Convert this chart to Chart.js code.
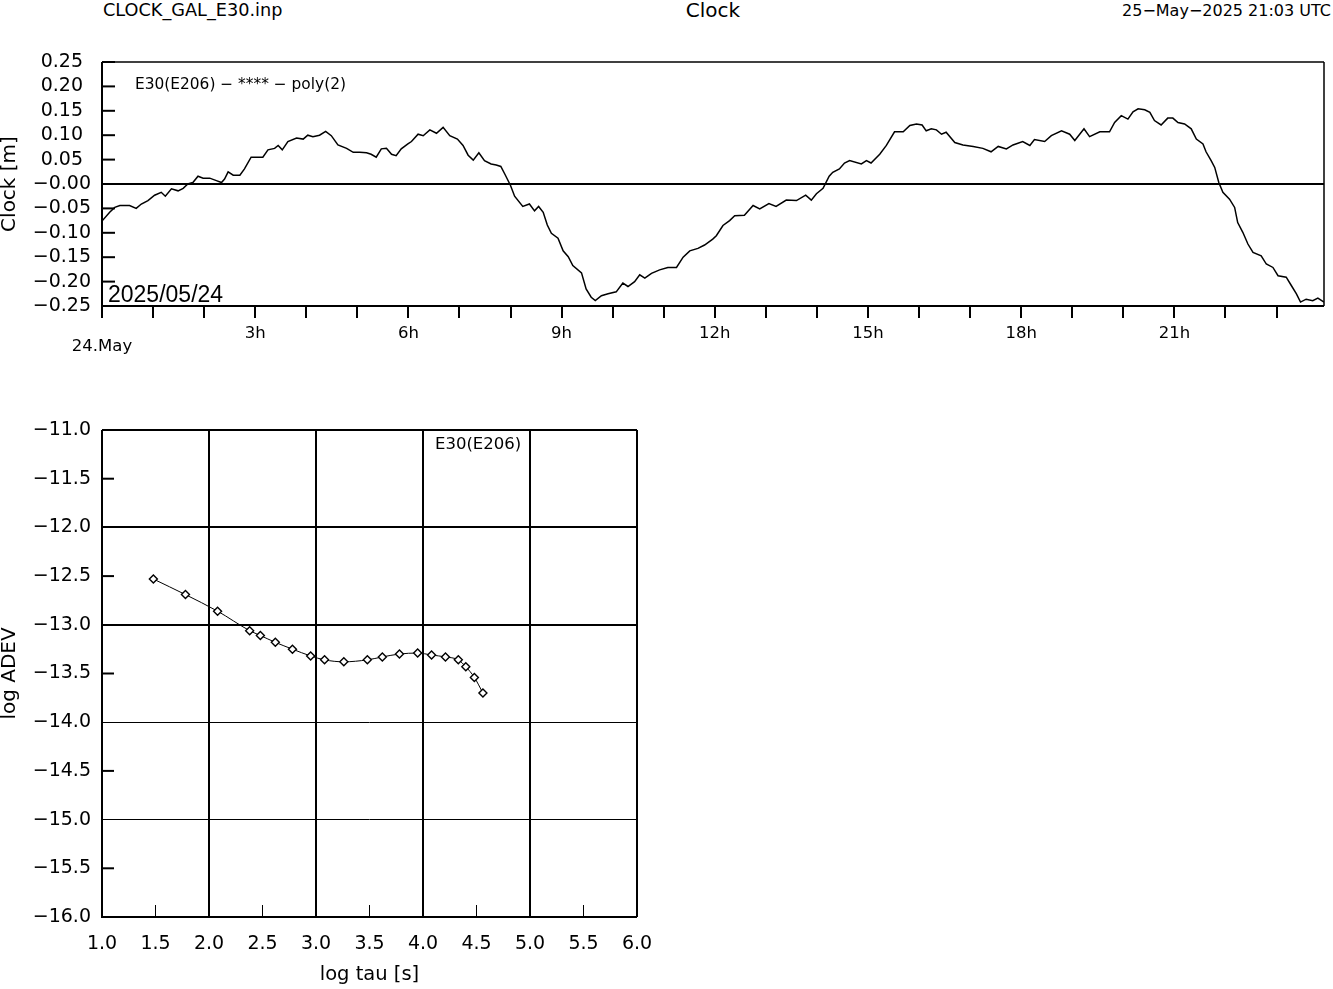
<!DOCTYPE html>
<html>
<head>
<meta charset="utf-8">
<script src="https://cdn.jsdelivr.net/npm/chart.js@4/dist/chart.umd.min.js"></script>
<style>
  body { margin: 0; background: #fff; }
  #page { position: relative; width: 1333px; height: 989px; overflow: hidden; }
  .hdr { position: absolute; font-family: "DejaVu Sans", sans-serif; color: #000; line-height: 1; white-space: nowrap; }
  canvas { position: absolute; }
</style>
</head>
<body>
<div id="page">
  <div class="hdr" style="left:103px;top:2px;font-size:17.7px;">CLOCK_GAL_E30.inp</div>
  <div class="hdr" style="left:613px;top:0px;width:200px;text-align:center;font-size:20px;">Clock</div>
  <div class="hdr" style="right:2px;top:3px;font-size:16px;">25−May−2025 21:03 UTC</div>
  <canvas id="clock" width="1333" height="340" style="left:0;top:30px;"></canvas>
  <canvas id="adev" width="700" height="589" style="left:0;top:400px;"></canvas>
</div>
<script>
// ── CLOCK DATA (hours since 24.May 00:00, metres) ──
const clockHours = [
  0.00, 0.15, 0.25, 0.35, 0.54, 0.67, 0.77, 0.90, 1.03, 1.16, 1.24, 1.36, 1.49, 1.59, 1.68, 1.78,
  1.88, 1.98, 2.11, 2.24, 2.34, 2.40, 2.47, 2.57, 2.70, 2.79, 2.92, 3.15, 3.25, 3.38, 3.45, 3.53,
  3.64, 3.81, 3.94, 4.03, 4.13, 4.26, 4.38, 4.49, 4.62, 4.79, 4.92, 5.05, 5.18, 5.27, 5.37, 5.47,
  5.57, 5.67, 5.76, 5.86, 5.99, 6.06, 6.19, 6.29, 6.42, 6.55, 6.68, 6.81, 6.96, 7.07, 7.17, 7.27,
  7.38, 7.49, 7.62, 7.72, 7.81, 7.89, 8.00, 8.08, 8.24, 8.37, 8.47, 8.55, 8.64, 8.72, 8.80, 8.93,
  9.03, 9.13, 9.22, 9.39, 9.48, 9.58, 9.66, 9.78, 9.91, 10.07, 10.20, 10.30, 10.43, 10.53, 10.63, 10.76,
  10.92, 11.08, 11.25, 11.38, 11.51, 11.67, 11.80, 11.96, 12.03, 12.16, 12.29, 12.39, 12.58, 12.75, 12.88, 13.06,
  13.20, 13.40, 13.60, 13.78, 13.89, 13.99, 14.12, 14.24, 14.31, 14.44, 14.54, 14.64, 14.87, 14.97, 15.06, 15.23,
  15.36, 15.52, 15.69, 15.82, 15.95, 16.06, 16.14, 16.24, 16.34, 16.44, 16.53, 16.70, 16.86, 17.06, 17.25, 17.41,
  17.55, 17.71, 17.84, 18.03, 18.17, 18.26, 18.46, 18.59, 18.79, 18.95, 19.05, 19.23, 19.34, 19.54, 19.73, 19.83,
  19.96, 20.09, 20.19, 20.29, 20.42, 20.52, 20.61, 20.74, 20.87, 20.97, 21.07, 21.20, 21.33, 21.43, 21.56, 21.62,
  21.72, 21.79, 21.87, 21.95, 22.08, 22.18, 22.24, 22.34, 22.44, 22.54, 22.70, 22.80, 22.93, 23.03, 23.19, 23.29,
  23.39, 23.47, 23.58, 23.71, 23.81, 23.93
];
const clockValues = [
  -0.076, -0.058, -0.048, -0.044, -0.044, -0.050, -0.041, -0.034, -0.023, -0.017, -0.025, -0.010, -0.014, -0.009, 0.000, 0.003,
  0.016, 0.012, 0.012, 0.007, 0.003, 0.010, 0.025, 0.018, 0.018, 0.031, 0.055, 0.055, 0.070, 0.073, 0.079, 0.070,
  0.087, 0.094, 0.092, 0.100, 0.097, 0.100, 0.108, 0.099, 0.080, 0.073, 0.065, 0.065, 0.064, 0.061, 0.055, 0.072,
  0.073, 0.061, 0.058, 0.072, 0.082, 0.087, 0.102, 0.099, 0.111, 0.104, 0.116, 0.099, 0.092, 0.079, 0.059, 0.049,
  0.064, 0.048, 0.041, 0.039, 0.036, 0.020, -0.003, -0.025, -0.046, -0.041, -0.055, -0.046, -0.058, -0.084, -0.101, -0.111,
  -0.137, -0.149, -0.167, -0.182, -0.215, -0.232, -0.239, -0.229, -0.225, -0.221, -0.203, -0.210, -0.200, -0.186, -0.193, -0.183,
  -0.176, -0.171, -0.171, -0.150, -0.137, -0.132, -0.125, -0.113, -0.106, -0.085, -0.075, -0.065, -0.064, -0.044, -0.051, -0.040,
  -0.046, -0.033, -0.034, -0.023, -0.033, -0.020, -0.009, 0.016, 0.024, 0.031, 0.043, 0.048, 0.041, 0.048, 0.043, 0.061,
  0.079, 0.107, 0.107, 0.120, 0.123, 0.121, 0.109, 0.113, 0.111, 0.102, 0.106, 0.085, 0.080, 0.077, 0.073, 0.066,
  0.077, 0.072, 0.080, 0.087, 0.079, 0.091, 0.087, 0.099, 0.109, 0.102, 0.089, 0.113, 0.097, 0.107, 0.107, 0.126,
  0.140, 0.133, 0.148, 0.154, 0.152, 0.147, 0.130, 0.121, 0.135, 0.135, 0.126, 0.123, 0.113, 0.092, 0.082, 0.066,
  0.048, 0.034, 0.003, -0.017, -0.031, -0.048, -0.079, -0.099, -0.123, -0.140, -0.147, -0.164, -0.171, -0.188, -0.191, -0.208,
  -0.225, -0.242, -0.236, -0.239, -0.234, -0.242
];

const timeTickValues = [0, 1, 2, 3, 4, 5, 6, 7, 8, 9, 10, 11, 12, 13, 14, 15, 16, 17, 18, 19, 20, 21, 22, 23];
const timeTickLabels = ['24.May', '', '', '3h', '', '', '6h', '', '', '9h', '', '', '12h', '', '', '15h', '', '', '18h', '', '', '21h', '', ''];
const clockYTicks = [-0.25, -0.20, -0.15, -0.10, -0.05, 0, 0.05, 0.10, 0.15, 0.20, 0.25];
const clockYTickLabels = ['−0.25', '−0.20', '−0.15', '−0.10', '−0.05', '−0.00', '0.05', '0.10', '0.15', '0.20', '0.25'];

// ── ADEV DATA ──
const adevLogTau = [1.48, 1.78, 2.08, 2.38, 2.48, 2.62, 2.78, 2.95, 3.08, 3.26, 3.48, 3.62, 3.78, 3.95, 4.08, 4.21, 4.33, 4.40, 4.48, 4.56];
const adevLogDev = [-12.53, -12.69, -12.86, -13.06, -13.11, -13.18, -13.25, -13.32, -13.36, -13.38, -13.36, -13.33, -13.30, -13.29, -13.31, -13.33, -13.36, -13.43, -13.54, -13.70];
const adevXTicks = [1.0, 1.5, 2.0, 2.5, 3.0, 3.5, 4.0, 4.5, 5.0, 5.5, 6.0];
const adevXTickLabels = ['1.0', '1.5', '2.0', '2.5', '3.0', '3.5', '4.0', '4.5', '5.0', '5.5', '6.0'];
const adevYTicks = [-16.0, -15.5, -15.0, -14.5, -14.0, -13.5, -13.0, -12.5, -12.0, -11.5, -11.0];
const adevYTickLabels = ['−16.0', '−15.5', '−15.0', '−14.5', '−14.0', '−13.5', '−13.0', '−12.5', '−12.0', '−11.5', '−11.0'];

const FONT = '"DejaVu Sans", sans-serif';
const CLEAR = 'rgba(0,0,0,0)';

// ── FRAME PLUGIN: box, inward ticks, annotations ──
function makeFrame(cfg) {
  return {
    id: 'frame',
    afterDraw(chart) {
      const { ctx, chartArea: a } = chart;
      ctx.save();
      ctx.strokeStyle = '#000';
      ctx.lineCap = 'butt';

      cfg.inward.forEach(t => {
        const scale = chart.scales[t.axis];
        ctx.lineWidth = t.width;
        scale.ticks.forEach(tick => {
          if (t.halfOnly && Number.isInteger(tick.value)) return;
          const p = scale.getPixelForValue(tick.value);
          ctx.beginPath();
          if (t.axis === 'y') { ctx.moveTo(a.left, p); ctx.lineTo(a.left + t.length, p); }
          else { ctx.moveTo(p, a.bottom); ctx.lineTo(p, a.bottom - t.length); }
          ctx.stroke();
        });
      });

      const b = cfg.box;
      const side = (w, x1, y1, x2, y2) => {
        ctx.lineWidth = w;
        ctx.beginPath(); ctx.moveTo(x1, y1); ctx.lineTo(x2, y2); ctx.stroke();
      };
      side(b.top, a.left, a.top, a.right, a.top);
      side(b.right, a.right, a.top, a.right, a.bottom);
      side(b.bottom, a.left - 1, a.bottom, a.right, a.bottom);
      side(b.left, a.left, a.top, a.left, a.bottom + 1);

      ctx.fillStyle = '#000';
      ctx.textAlign = 'left';
      ctx.textBaseline = 'alphabetic';
      cfg.texts.forEach(t => {
        ctx.font = t.font;
        const y = t.fromBottom ? a.bottom - t.dy : a.top + t.dy;
        ctx.fillText(t.text, a.left + t.dx, y);
      });
      ctx.restore();
    }
  };
}

// ── CLOCK CHART ──
new Chart(document.getElementById('clock'), {
  type: 'line',
  data: {
    datasets: [{
      data: clockHours.map((h, i) => ({ x: h, y: clockValues[i] })),
      borderColor: '#000',
      borderWidth: 1.5,
      pointRadius: 0,
      tension: 0,
      fill: false
    }]
  },
  options: {
    responsive: false,
    animation: false,
    events: [],
    layout: { padding: { top: 32, right: 9, bottom: 0, left: 0 } },
    plugins: { legend: { display: false }, tooltip: { enabled: false } },
    scales: {
      x: {
        type: 'linear', min: 0, max: 23.93,
        afterBuildTicks: s => { s.ticks = timeTickValues.map(v => ({ value: v })); },
        afterFit: s => { s.height = 64; },
        border: { display: false },
        grid: { drawOnChartArea: false, drawTicks: true, tickLength: 12, lineWidth: 2, color: '#000' },
        ticks: {
          autoSkip: false, maxRotation: 0, minRotation: 0, padding: 9, color: '#000',
          font: { family: FONT, size: 16.5, lineHeight: 0.8 },
          callback: (v, i) => i === 0 ? ['', timeTickLabels[i]] : timeTickLabels[i]
        }
      },
      y: {
        type: 'linear', min: -0.25, max: 0.25,
        afterBuildTicks: s => { s.ticks = clockYTicks.map(v => ({ value: v })); },
        afterFit: s => { s.width = 102; },
        border: { display: false },
        grid: {
          drawTicks: false, lineWidth: 2,
          color: c => (c.tick && c.tick.value === 0) ? '#000' : CLEAR
        },
        ticks: {
          autoSkip: false, crossAlign: 'center', padding: 11, color: '#000',
          font: { family: FONT, size: 19 },
          callback: (v, i) => clockYTickLabels[i]
        },
        title: {
          display: true, text: 'Clock [m]', color: '#000',
          font: { family: FONT, size: 20, lineHeight: 1 }, padding: 0
        }
      }
    }
  },
  plugins: [makeFrame({
    inward: [{ axis: 'y', length: 13, width: 2 }],
    box: { top: 1.5, right: 1.5, bottom: 2, left: 2 },
    texts: [
      { text: 'E30(E206) − **** − poly(2)', font: '15.4px ' + FONT, dx: 33, dy: 27 },
      { text: '2025/05/24', font: '23px "Liberation Sans", Arial, sans-serif', dx: 6, dy: 4, fromBottom: true }
    ]
  })]
});

// ── ADEV CHART ──
new Chart(document.getElementById('adev'), {
  type: 'line',
  data: {
    datasets: [{
      data: adevLogTau.map((t, i) => ({ x: t, y: adevLogDev[i] })),
      borderColor: '#000',
      borderWidth: 1,
      cubicInterpolationMode: 'monotone',
      pointStyle: 'rectRot',
      pointRadius: 4,
      pointBorderWidth: 1.4,
      pointBorderColor: '#000',
      pointBackgroundColor: '#fff',
      fill: false
    }]
  },
  options: {
    responsive: false,
    animation: false,
    events: [],
    layout: { padding: { top: 30, right: 63, bottom: 0, left: 0 } },
    plugins: { legend: { display: false }, tooltip: { enabled: false } },
    scales: {
      x: {
        type: 'linear', min: 1, max: 6,
        afterBuildTicks: s => { s.ticks = adevXTicks.map(v => ({ value: v })); },
        afterFit: s => { s.height = 72; },
        border: { display: false },
        grid: {
          drawTicks: false, lineWidth: 2,
          color: c => (c.tick && Number.isInteger(c.tick.value)) ? '#000' : CLEAR
        },
        ticks: {
          autoSkip: false, maxRotation: 0, minRotation: 0, padding: 16, color: '#000',
          font: { family: FONT, size: 19 },
          callback: (v, i) => adevXTickLabels[i]
        },
        title: {
          display: true, text: 'log tau [s]', color: '#000',
          font: { family: FONT, size: 19.5 }, padding: { top: 0, bottom: 2 }
        }
      },
      y: {
        type: 'linear', min: -16, max: -11,
        afterBuildTicks: s => { s.ticks = adevYTicks.map(v => ({ value: v })); },
        afterFit: s => { s.width = 102; },
        border: { display: false },
        grid: {
          drawTicks: false,
          lineWidth: c => (c.tick && c.tick.value >= -13) ? 2 : 1,
          color: c => (c.tick && Number.isInteger(c.tick.value)) ? '#000' : CLEAR
        },
        ticks: {
          autoSkip: false, crossAlign: 'center', padding: 11, color: '#000',
          font: { family: FONT, size: 19 },
          callback: (v, i) => adevYTickLabels[i]
        },
        title: {
          display: true, text: 'log ADEV', color: '#000',
          font: { family: FONT, size: 20, lineHeight: 1 }, padding: 0
        }
      }
    }
  },
  plugins: [makeFrame({
    inward: [
      { axis: 'y', length: 12, width: 2, halfOnly: true },
      { axis: 'x', length: 12, width: 1, halfOnly: true }
    ],
    box: { top: 2, right: 2, bottom: 2, left: 2 },
    texts: [
      { text: 'E30(E206)', font: '16.5px ' + FONT, dx: 333, dy: 19 }
    ]
  })]
});
</script>
</body>
</html>
